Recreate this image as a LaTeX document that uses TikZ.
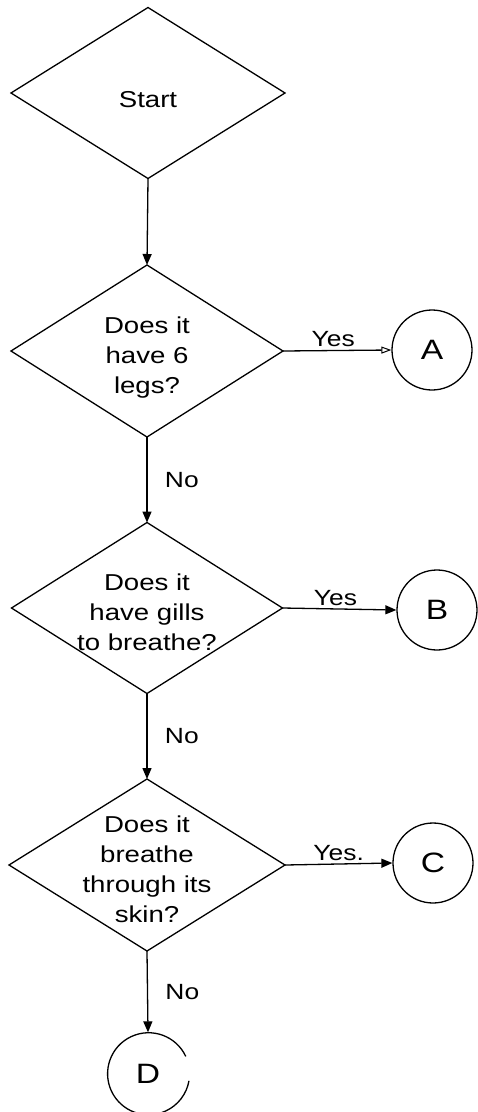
\documentclass[tikz,border=0pt]{standalone}
\usepackage{fontspec}
\setmainfont{Liberation Sans}[FakeStretch=1.2]
\usetikzlibrary{shapes.geometric,arrows.meta}
\begin{document}
\begin{tikzpicture}[x=1pt,y=-1pt,
  line width=1.3pt,
  decision/.style={draw, diamond, inner sep=0pt, outer sep=0pt},
  qtext/.style={align=center, inner sep=0pt, font=\fontsize{23}{30}\selectfont},
  endpt/.style={draw, circle, minimum size=80pt, inner sep=0pt, font=\fontsize{28}{30}\selectfont},
  lbl/.style={font=\fontsize{22}{26}\selectfont},
  flow/.style={-{Triangle[length=11pt,width=9pt]}},
  openflow/.style={-{Triangle[open,length=10pt,width=7pt,line width=1pt]}}]
\useasboundingbox (0,0) rectangle (477,1112);

% decision diamonds
\node[decision, minimum width=274pt, minimum height=171pt] (s)  at (148,93)  {};
\node[decision, minimum width=272pt, minimum height=172pt] (q1) at (147,351) {};
\node[decision, minimum width=271pt, minimum height=171pt] (q2) at (147,608) {};
\node[decision, minimum width=276pt, minimum height=172pt] (q3) at (147,865) {};

% texts inside the diamonds
\node[qtext] (st)  at (148,100) {Start};
\node[qtext] (q1t) at (147,358) {Does it\\have 6\\legs?};
\node[qtext] (q2t) at (147,612) {Does it\\have gills\\to breathe?};
\node[qtext] (q3t) at (147,869) {Does it\\breathe\\through its\\skin?};

% terminal circles
\node[endpt] (A) at (432,350) {A};
\node[endpt] (B) at (437,610) {B};
\node[endpt] (C) at (433,863) {C};
\node[endpt, draw=none, minimum size=82pt] (D) at (148,1074) {D};
\draw (D.25) arc[start angle=25, end angle=350, radius=41pt];

% connectors
\draw[flow] (s.south) -- (q1.north);
\draw[flow] (q1.south) -- node[lbl, right, xshift=14pt] (n1) {No} (q2.north);
\draw[flow] (q2.south) -- node[lbl, right, xshift=14pt] (n2) {No} (q3.north);
\draw[flow] (q3.south) -- node[lbl, right, xshift=14pt] (n3) {No} (D.north);
\draw[openflow] (q1.east) -- node[lbl, above, inner sep=3pt, xshift=-4pt] (y1) {Yes} (A.west);
\draw[flow] (q2.east) -- node[lbl, above, inner sep=3pt, xshift=-4pt] (y2) {Yes} (B.west);
\draw[flow] (q3.east) -- node[lbl, above, inner sep=3pt] (y3) {Yes.} (C.west);
\end{tikzpicture}
\end{document}
